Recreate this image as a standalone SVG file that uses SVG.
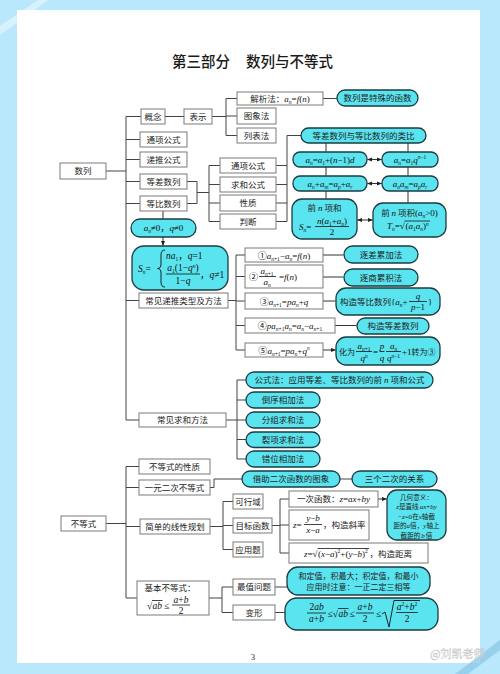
<svg xmlns="http://www.w3.org/2000/svg" width="500" height="674" viewBox="0 0 500 674">
<defs>
<style>
.bx{fill:#fff;stroke:#7a7a7a;stroke-width:1}
.cy{fill:#5ae4ef;stroke:#1d3b42;stroke-width:1.3}
.ln{fill:none;stroke:#444;stroke-width:1}
.ar{fill:none;stroke:#333;stroke-width:1;marker-end:url(#ah)}
.da{fill:none;stroke:#333;stroke-width:1;marker-start:url(#ah);marker-end:url(#ah)}
.bar{fill:none;stroke:#111;stroke-width:0.8}
.cn{font-family:"Noto Sans CJK SC","Noto Sans CJK JP",sans-serif;font-size:8.5px;fill:#222}
.m{font-family:"Liberation Serif","Noto Sans CJK SC",serif;font-size:9px;fill:#111}
.i{font-style:italic}
.s{font-size:5.5px}
.c{text-anchor:middle}
.g{font-size:6.6px}
.gm{font-family:"Liberation Serif",serif;font-size:7px;font-style:italic}
.ti{font-family:"Noto Sans CJK SC",sans-serif;font-size:14.5px;font-weight:500;fill:#1a1a1a}
</style>
<marker id="ah" viewBox="0 0 6 6" refX="5.5" refY="3" markerWidth="5" markerHeight="5" markerUnits="userSpaceOnUse" orient="auto-start-reverse"><path d="M0,0.5L6,3L0,5.5z" fill="#222"/></marker>
</defs>
<rect width="500" height="674" fill="#b9e7fb"/>
<polygon points="0,26 38,0 48,0 0,35" fill="#fff" opacity="0.45"/>
<rect x="17" y="10" width="463" height="653" fill="#fff"/>
<polygon points="455,674 468,674 500,650 500,640" fill="#8fcbea" opacity="0.8"/>

<g id="title"><text class="ti" y="67"><tspan x="172">第三部分</tspan><tspan x="246">数列与不等式</tspan></text></g>

<g id="connectors">
<path class="ln" d="M106,171H126M126,116.5V420M126,116.5H141M126,139.5H140M126,159.5H140M126,181.5H140M126,203.5H140M126,300.5H139M126,420H139"/>
<path class="ln" d="M165,116.5H184M212,116.5H226M226,98.5V135.5M226,98.5H237M226,116H237M226,135.5H237M323,98.5H337"/>
<path class="ln" d="M187,181.5H197V203.5H187M197,192.5H209M209,165.5V221.5M209,165.5H220M209,184.5H220M209,203H220M209,221.5H220"/>
<path class="ln" d="M276,165.5H287M276,184.5H287M276,203H287M276,221.5H287M287,135.5V221.5M287,135.5H301"/>
<path class="ar" d="M326,143V151.5M408,143V151.5M326,167V175.5M408,167V175.5M326,191V198.5M408,191V202.5M163,211V218.5M163,237V245.5"/>
<path class="da" d="M367.5,159.5H381.5"/>
<path class="da" d="M367.5,183.5H381.5"/>
<path class="da" d="M357.5,220H372.5"/>
<path class="ln" d="M228,300.5H236M236,255V350M236,255H245M236,276.5H245M236,301H245M236,325.5H245M236,350H245"/>
<path class="ar" d="M323,255H343.5M323,277H343.5M323,301H335.5M335,325.5H356.5M323,350H335.5"/>
<path class="ln" d="M226,420H237M237,380V459M237,380H246M237,400H246M237,420H246M237,439.5H246M237,459H246"/>
<path class="ln" d="M106,523.5H126M126,466.5V598M126,466.5H139M126,487.5H139M126,526.5H140M126,598H137"/>
<path class="ln" d="M210,487.5H214V479H242M340,479H352"/>
<path class="ln" d="M210,526.5H223M223,501.5V549.5M223,501.5H233M223,525.5H233M223,549.5H233"/>
<path class="ln" d="M272,525.5H280M280,499V553M280,499H289M280,525H289M280,553H289"/>
<path class="ar" d="M378,499H386.5"/>
<path class="ln" d="M209,598H222M222,587V612.5M222,587H233M222,612.5H233M275,587H287M275,612.5H285"/>
</g>

<g id="n-shulie"><rect class="bx" x="60" y="163" width="46" height="16"/><text class="cn c" x="83" y="174">数列</text></g>
<g id="n-gainian"><rect class="bx" x="141" y="109" width="24" height="15"/><text class="cn c" x="153" y="119.5">概念</text></g>
<g id="n-biaoshi"><rect class="bx" x="184" y="109" width="28" height="15"/><text class="cn c" x="198" y="119.5">表示</text></g>
<g id="n-jiexi"><rect class="bx" x="237" y="92" width="86" height="13"/><text class="cn c" x="280" y="101.5">解析法：<tspan class="m i">a</tspan><tspan class="m i s" dy="2">n</tspan><tspan class="m" dy="-2">=</tspan><tspan class="m i">f</tspan><tspan class="m">(</tspan><tspan class="m i">n</tspan><tspan class="m">)</tspan></text></g>
<g id="n-hanshu"><rect class="cy" x="337" y="90" width="81" height="16" rx="8"/><text class="cn c" x="377.5" y="101">数列是特殊的函数</text></g>
<g id="n-tuxiang"><rect class="bx" x="237" y="108" width="39" height="16"/><text class="cn c" x="256.5" y="119">图象法</text></g>
<g id="n-liebiao"><rect class="bx" x="237" y="128" width="39" height="15"/><text class="cn c" x="256.5" y="138.5">列表法</text></g>
<g id="n-tongxiang"><rect class="bx" x="140" y="132" width="47" height="15"/><text class="cn c" x="163.5" y="142.5">通项公式</text></g>
<g id="n-ditui"><rect class="bx" x="140" y="152" width="47" height="15"/><text class="cn c" x="163.5" y="162.5">递推公式</text></g>
<g id="n-dengcha"><rect class="bx" x="140" y="174" width="47" height="15"/><text class="cn c" x="163.5" y="184.5">等差数列</text></g>
<g id="n-dengbi"><rect class="bx" x="140" y="196" width="47" height="15"/><text class="cn c" x="163.5" y="206.5">等比数列</text></g>
<g id="n-tx2"><rect class="bx" x="220" y="158" width="56" height="15"/><text class="cn c" x="248" y="168.5">通项公式</text></g>
<g id="n-qiuhe"><rect class="bx" x="220" y="177" width="56" height="15"/><text class="cn c" x="248" y="187.5">求和公式</text></g>
<g id="n-xingzhi"><rect class="bx" x="220" y="195" width="56" height="16"/><text class="cn c" x="248" y="206">性质</text></g>
<g id="n-panduan"><rect class="bx" x="220" y="214" width="56" height="15"/><text class="cn c" x="248" y="224.5">判断</text></g>
<g id="n-leibi"><rect class="cy" x="301" y="128" width="125" height="15" rx="7.5"/><text class="cn c" x="363.5" y="138.5">等差数列与等比数列的类比</text></g>
<g id="n-f1"><rect class="cy" x="293" y="152" width="74" height="15" rx="7"/><text class="m c" x="330" y="162.5"><tspan class="i">a</tspan><tspan class="s i" dy="2">n</tspan><tspan dy="-2">=</tspan><tspan class="i">a</tspan><tspan class="s" dy="2">1</tspan><tspan dy="-2">+(</tspan><tspan class="i">n</tspan>−1)<tspan class="i">d</tspan></text></g>
<g id="n-f2"><rect class="cy" x="382" y="152" width="56" height="15" rx="7"/><text class="m c" x="410" y="162.5"><tspan class="i">a</tspan><tspan class="s i" dy="2">n</tspan><tspan dy="-2">=</tspan><tspan class="i">a</tspan><tspan class="s" dy="2">1</tspan><tspan class="i" dy="-2">q</tspan><tspan class="s i" dy="-3.5">n</tspan><tspan class="s">−1</tspan></text></g>
<g id="n-f3"><rect class="cy" x="293" y="176" width="74" height="15" rx="7"/><text class="m c" x="330" y="186.5"><tspan class="i">a</tspan><tspan class="s i" dy="2">n</tspan><tspan dy="-2">+</tspan><tspan class="i">a</tspan><tspan class="s i" dy="2">m</tspan><tspan dy="-2">=</tspan><tspan class="i">a</tspan><tspan class="s i" dy="2">p</tspan><tspan dy="-2">+</tspan><tspan class="i">a</tspan><tspan class="s i" dy="2">r</tspan></text></g>
<g id="n-f4"><rect class="cy" x="382" y="176" width="56" height="15" rx="7"/><text class="m c" x="410" y="186.5"><tspan class="i">a</tspan><tspan class="s i" dy="2">n</tspan><tspan class="i" dy="-2">a</tspan><tspan class="s i" dy="2">m</tspan><tspan dy="-2">=</tspan><tspan class="i">a</tspan><tspan class="s i" dy="2">p</tspan><tspan class="i" dy="-2">a</tspan><tspan class="s i" dy="2">r</tspan></text></g>
<g id="n-sn"><rect class="cy" x="292" y="199" width="65" height="40" rx="10"/>
<text class="cn c" x="324.5" y="211">前 <tspan class="m i">n</tspan> 项和</text>
<text class="m" x="299" y="230"><tspan class="i">S</tspan><tspan class="s i" dy="2">n</tspan><tspan dy="-2">=</tspan></text>
<text class="m c" x="332" y="223.5"><tspan class="i">n</tspan>(<tspan class="i">a</tspan><tspan class="s" dy="2">1</tspan><tspan dy="-2">+</tspan><tspan class="i">a</tspan><tspan class="s i" dy="2">n</tspan><tspan dy="-2">)</tspan></text>
<path class="bar" d="M315,226.5H349"/>
<text class="m c" x="332" y="234.5">2</text></g>
<g id="n-tn"><rect class="cy" x="373" y="203" width="73" height="34" rx="10"/>
<text class="cn c" x="409.5" y="216">前 <tspan class="m i">n</tspan> 项积<tspan class="m">(</tspan><tspan class="m i">a</tspan><tspan class="m i s" dy="2">n</tspan><tspan class="m" dy="-2">&gt;0)</tspan></text>
<text class="m" x="387" y="229"><tspan class="i">T</tspan><tspan class="s i" dy="2">n</tspan><tspan dy="-2">=√</tspan></text>
<text class="m" x="405.5" y="229">(<tspan class="i">a</tspan><tspan class="s" dy="2">1</tspan><tspan class="i" dy="-2">a</tspan><tspan class="s i" dy="2">n</tspan><tspan dy="-2">)</tspan><tspan class="s i" dy="-3.5">n</tspan></text>
<path class="bar" d="M404.5,221H430"/></g>
<g id="n-cond"><rect class="cy" x="131" y="219" width="65" height="18" rx="9"/><text class="m c" x="163.5" y="231"><tspan class="i">a</tspan><tspan class="s i" dy="2">n</tspan><tspan dy="-2">≠0，</tspan><tspan class="i">q</tspan>≠0</text></g>
<g id="n-snq"><rect class="cy" x="132" y="246" width="96" height="44" rx="12"/>
<text class="m" style="font-size:9.5px" x="138" y="272"><tspan class="i">S</tspan><tspan class="s i" dy="2">n</tspan><tspan dy="-2">=</tspan></text>
<path d="M165,250Q161,250 161,255V264Q161,268.5 157.5,268.5Q161,268.5 161,273V282Q161,287 165,287" fill="none" stroke="#111" stroke-width="0.9"/>
<text class="m" style="font-size:9.5px" x="166" y="259"><tspan class="i">na</tspan><tspan class="s" dy="2">1</tspan><tspan dy="-2">，</tspan><tspan class="i">q</tspan>=1</text>
<text class="m c" style="font-size:9.5px" x="183" y="271"><tspan class="i">a</tspan><tspan class="s" dy="2">1</tspan><tspan dy="-2">(1−</tspan><tspan class="i">q</tspan><tspan class="s i" dy="-3.5">n</tspan><tspan dy="3.5">)</tspan></text>
<path class="bar" d="M166,274H200"/>
<text class="m c" style="font-size:9.5px" x="183" y="283.5">1−<tspan class="i">q</tspan></text>
<text class="m" style="font-size:9.5px" x="200" y="277.5">，<tspan class="i">q</tspan>≠1</text></g>
<g id="n-dtlx"><rect class="bx" x="139" y="293" width="89" height="15"/><text class="cn c" x="183.5" y="303.5">常见递推类型及方法</text></g>
<g id="n-r1"><rect class="bx" x="245" y="248" width="78" height="14"/><text class="m c" x="284" y="258.5">①<tspan class="i">a</tspan><tspan class="s i" dy="2">n</tspan><tspan class="s">+1</tspan><tspan dy="-2">−</tspan><tspan class="i">a</tspan><tspan class="s i" dy="2">n</tspan><tspan dy="-2">=</tspan><tspan class="i">f</tspan>(<tspan class="i">n</tspan>)</text></g>
<g id="n-r2"><rect class="bx" x="245" y="265" width="78" height="23"/>
<text class="m" x="249" y="279.5">②</text>
<text class="m c" x="267" y="274"><tspan class="i">a</tspan><tspan class="s i" dy="2">n</tspan><tspan class="s">+1</tspan></text>
<path class="bar" d="M259,276.5H276"/>
<text class="m c" x="267" y="285"><tspan class="i">a</tspan><tspan class="s i" dy="2">n</tspan></text>
<text class="m" x="279" y="279.5">=<tspan class="i">f</tspan>(<tspan class="i">n</tspan>)</text></g>
<g id="n-r3"><rect class="bx" x="245" y="293" width="78" height="16"/><text class="m c" x="284" y="304.5">③<tspan class="i">a</tspan><tspan class="s i" dy="2">n</tspan><tspan class="s">+1</tspan><tspan dy="-2">=</tspan><tspan class="i">pa</tspan><tspan class="s i" dy="2">n</tspan><tspan dy="-2">+</tspan><tspan class="i">q</tspan></text></g>
<g id="n-r4"><rect class="bx" x="245" y="318" width="90" height="15"/><text class="m c" x="290" y="328.5">④<tspan class="i">pa</tspan><tspan class="s i" dy="2">n</tspan><tspan class="s">+1</tspan><tspan class="i" dy="-2">a</tspan><tspan class="s i" dy="2">n</tspan><tspan dy="-2">=</tspan><tspan class="i">a</tspan><tspan class="s i" dy="2">n</tspan><tspan dy="-2">−</tspan><tspan class="i">a</tspan><tspan class="s i" dy="2">n</tspan><tspan class="s">+1</tspan></text></g>
<g id="n-r5"><rect class="bx" x="245" y="343" width="78" height="14"/><text class="m c" x="284" y="353.5">⑤<tspan class="i">a</tspan><tspan class="s i" dy="2">n</tspan><tspan class="s">+1</tspan><tspan dy="-2">=</tspan><tspan class="i">pa</tspan><tspan class="s i" dy="2">n</tspan><tspan dy="-2">+</tspan><tspan class="i">q</tspan><tspan class="s i" dy="-3.5">n</tspan></text></g>
<g id="n-m1"><rect class="cy" x="344" y="246" width="74" height="17" rx="8.5"/><text class="cn c" x="381" y="257.5">逐差累加法</text></g>
<g id="n-m2"><rect class="cy" x="344" y="269" width="74" height="17" rx="8.5"/><text class="cn c" x="381" y="280.5">逐商累积法</text></g>
<g id="n-m3"><rect class="cy" x="336" y="288" width="104" height="27" rx="10"/>
<text class="cn" x="340" y="304.5">构造等比数列<tspan class="m">{</tspan><tspan class="m i">a</tspan><tspan class="m i s" dy="2">n</tspan><tspan class="m" dy="-2">+</tspan></text>
<text class="m c i" x="418" y="298.5">q</text>
<path class="bar" d="M409,301.5H427"/>
<text class="m c" x="418" y="310"><tspan class="i">p</tspan>−1</text>
<text class="m" x="428" y="304.5">}</text></g>
<g id="n-m4"><rect class="cy" x="357" y="318" width="72" height="16" rx="8"/><text class="cn c" x="393" y="329">构造等差数列</text></g>
<g id="n-m5"><rect class="cy" x="336" y="337" width="104" height="28" rx="10"/>
<text class="cn" style="font-size:8px" x="339" y="354.5">化为</text>
<text class="m c" x="364" y="349"><tspan class="i">a</tspan><tspan class="s i" dy="2">n</tspan><tspan class="s">+1</tspan></text>
<path class="bar" d="M356,351.5H372"/>
<text class="m c" x="364" y="361"><tspan class="i">q</tspan><tspan class="s i" dy="-3.5">n</tspan></text>
<text class="m" x="373" y="354.5">=</text>
<text class="m c i" x="382" y="349">p</text>
<path class="bar" d="M379.5,351.5H384.5"/>
<text class="m c i" x="382" y="361">q</text>
<text class="m c" x="393.5" y="349"><tspan class="i">a</tspan><tspan class="s i" dy="2">n</tspan></text>
<path class="bar" d="M386,351.5H401"/>
<text class="m c" x="393.5" y="361"><tspan class="i">q</tspan><tspan class="s i" dy="-3.5">n</tspan><tspan class="s">−1</tspan></text>
<text class="m" x="402" y="354.5">+1<tspan class="cn" style="font-size:8px">转为③</tspan></text></g>
<g id="n-qhff"><rect class="bx" x="139" y="413" width="87" height="14"/><text class="cn c" x="182.5" y="423">常见求和方法</text></g>
<g id="n-s1"><rect class="cy" x="246" y="372" width="187" height="16" rx="8"/><text class="cn c" x="339.5" y="383">公式法：应用等差、等比数列的前 <tspan class="m i">n</tspan> 项和公式</text></g>
<g id="n-s2"><rect class="cy" x="246" y="392" width="74" height="16" rx="8"/><text class="cn c" x="283" y="403">倒序相加法</text></g>
<g id="n-s3"><rect class="cy" x="246" y="412" width="74" height="16" rx="8"/><text class="cn c" x="283" y="423">分组求和法</text></g>
<g id="n-s4"><rect class="cy" x="246" y="432" width="74" height="15.5" rx="8"/><text class="cn c" x="283" y="442.5">裂项求和法</text></g>
<g id="n-s5"><rect class="cy" x="246" y="451" width="74" height="16" rx="8"/><text class="cn c" x="283" y="462">错位相加法</text></g>
<g id="n-bdsh"><rect class="bx" x="61" y="516" width="45" height="15"/><text class="cn c" x="83.5" y="526.5">不等式</text></g>
<g id="n-xz"><rect class="bx" x="139" y="459" width="71" height="15"/><text class="cn c" x="174.5" y="469.5">不等式的性质</text></g>
<g id="n-yyec"><rect class="bx" x="139" y="480" width="71" height="15"/><text class="cn c" x="174.5" y="490.5">一元二次不等式</text></g>
<g id="n-jz"><rect class="cy" x="242" y="471" width="98" height="16" rx="8"/><text class="cn c" x="291" y="482">借助二次函数的图象</text></g>
<g id="n-sg"><rect class="cy" x="352" y="471" width="85" height="16" rx="8"/><text class="cn c" x="394.5" y="482">三个二次的关系</text></g>
<g id="n-xxgh"><rect class="bx" x="140" y="519" width="70" height="15"/><text class="cn c" x="175" y="529.5">简单的线性规划</text></g>
<g id="n-kxy"><rect class="bx" x="233" y="494" width="30" height="15"/><text class="cn c" x="248" y="504.5">可行域</text></g>
<g id="n-mbhs"><rect class="bx" x="233" y="518" width="39" height="15"/><text class="cn c" x="252.5" y="528.5">目标函数</text></g>
<g id="n-yyt"><rect class="bx" x="233" y="542" width="30" height="15"/><text class="cn c" x="248" y="552.5">应用题</text></g>
<g id="n-ycs"><rect class="bx" x="289" y="491" width="89" height="16"/><text class="cn c" x="333.5" y="502">一次函数：<tspan class="m i">z</tspan><tspan class="m">=</tspan><tspan class="m i">ax</tspan><tspan class="m">+</tspan><tspan class="m i">by</tspan></text></g>
<g id="n-xl"><rect class="bx" x="289" y="510" width="80" height="30"/>
<text class="m" x="293" y="528"><tspan class="i">z</tspan>=</text>
<text class="m c" x="313" y="521"><tspan class="i">y</tspan>−<tspan class="i">b</tspan></text>
<path class="bar" d="M304,524.5H322"/>
<text class="m c" x="313" y="533"><tspan class="i">x</tspan>−<tspan class="i">a</tspan></text>
<text class="cn" x="323" y="528">，构造斜率</text></g>
<g id="n-jl"><rect class="bx" x="289" y="543" width="139" height="20"/>
<text class="m" x="304" y="556.5"><tspan class="i">z</tspan>=√</text>
<text class="m" x="318" y="556.5">(<tspan class="i">x</tspan>−<tspan class="i">a</tspan>)<tspan class="s" dy="-3.5">2</tspan><tspan dy="3.5">+(</tspan><tspan class="i">y</tspan>−<tspan class="i">b</tspan>)<tspan class="s" dy="-3.5">2</tspan></text>
<path class="bar" d="M317.5,548.5H369"/>
<text class="cn" x="369.5" y="556.5">，构造距离</text></g>
<g id="n-jhyy"><rect class="cy" x="387" y="490" width="59" height="50" rx="10"/>
<text class="cn c g" x="416.5" y="499.5">几何意义：</text>
<text class="cn c g" x="416.5" y="509.1"><tspan class="gm">z</tspan>是直线<tspan class="gm" dx="1">ax</tspan><tspan class="gm" style="font-style:normal">+</tspan><tspan class="gm">by</tspan></text>
<text class="cn c g" x="416.5" y="518.7"><tspan class="gm" style="font-style:normal">−</tspan><tspan class="gm">z</tspan><tspan class="gm" style="font-style:normal">=0</tspan>在<tspan class="gm">x</tspan>轴截</text>
<text class="cn c g" x="416.5" y="528.3">距的<tspan class="gm">a</tspan>倍，<tspan class="gm">y</tspan>轴上</text>
<text class="cn c g" x="416.5" y="537.6">截距的<tspan class="gm" dx="1">b</tspan><tspan dx="1">倍</tspan></text></g>
<g id="n-jbbdsh"><rect class="bx" x="137" y="581" width="72" height="34"/>
<text class="cn c" x="170" y="591">基本不等式：</text>
<text class="m" style="font-size:9.5px" x="147" y="609">√</text>
<text class="m i" style="font-size:9.5px" x="152.5" y="609">ab</text>
<path class="bar" d="M152,600.5H162.5"/>
<text class="m" style="font-size:9.5px" x="164" y="609">≤</text>
<text class="m c" style="font-size:9.5px" x="181" y="602.5"><tspan class="i">a</tspan>+<tspan class="i">b</tspan></text>
<path class="bar" d="M172,605H190"/>
<text class="m c" style="font-size:9.5px" x="181" y="613.5">2</text></g>
<g id="n-zzwt"><rect class="bx" x="233" y="579" width="42" height="16"/><text class="cn c" x="254" y="590">最值问题</text></g>
<g id="n-bx"><rect class="bx" x="233" y="605" width="42" height="15"/><text class="cn c" x="254" y="615.5">变形</text></g>
<g id="n-hdz"><rect class="cy" x="287" y="567" width="143" height="28" rx="11"/>
<text class="cn c" style="font-size:8px" x="358.5" y="579">和定值，积最大；积定值，和最小</text>
<text class="cn c" style="font-size:8px" x="358.5" y="590">应用时注意：一正二定三相等</text></g>
<g id="n-bxf"><rect class="cy" x="285" y="598" width="153" height="32" rx="12"/>
<text class="m c" style="font-size:9.5px" x="316.5" y="610">2<tspan class="i">ab</tspan></text>
<path class="bar" d="M307,613H326"/>
<text class="m c" style="font-size:9.5px" x="316.5" y="622"><tspan class="i">a</tspan>+<tspan class="i">b</tspan></text>
<text class="m" style="font-size:9.5px" x="327.5" y="617">≤√</text>
<text class="m i" style="font-size:9.5px" x="338.5" y="617">ab</text>
<path class="bar" d="M338,608.5H348.5"/>
<text class="m" style="font-size:9.5px" x="349.5" y="617">≤</text>
<text class="m c" style="font-size:9.5px" x="365" y="610"><tspan class="i">a</tspan>+<tspan class="i">b</tspan></text>
<path class="bar" d="M356,613H374"/>
<text class="m c" style="font-size:9.5px" x="365" y="622">2</text>
<text class="m" style="font-size:9.5px" x="376" y="617">≤</text>
<path d="M382,614L385,612L389,627L394,600.5H420" fill="none" stroke="#111" stroke-width="0.9"/>
<text class="m c" style="font-size:9.5px" x="407" y="609.5"><tspan class="i">a</tspan><tspan class="s" dy="-3.5">2</tspan><tspan dy="3.5">+</tspan><tspan class="i">b</tspan><tspan class="s" dy="-3.5">2</tspan></text>
<path class="bar" d="M396,612.5H418"/>
<text class="m c" style="font-size:9.5px" x="407" y="622">2</text></g>

<g id="footer">
<text class="m c" style="font-size:8px" x="253" y="660">3</text>
<text x="430" y="658" style="font-family:'Noto Sans CJK SC',sans-serif;font-size:11px;fill:#fff;stroke:#bbb;stroke-width:0.4;opacity:0.9">@刘凯老师</text>
</g>
</svg>
